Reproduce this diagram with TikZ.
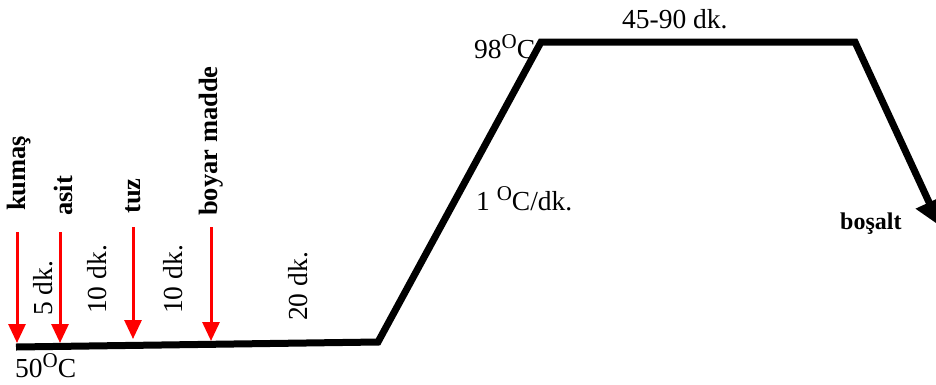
\documentclass[tikz,border=0pt]{standalone}
\usepackage{fontspec}
\setmainfont{Liberation Serif}
\usetikzlibrary{arrows.meta}
\newcommand{\degO}{\raisebox{0.36em}{\fontsize{21}{22}\selectfont O}}
\begin{document}
\begin{tikzpicture}[x=1pt,y=-1pt,
  lab/.style={inner sep=0pt,font=\fontsize{26.5}{30}\selectfont\bfseries},
  txt/.style={inner sep=0pt,font=\fontsize{27.5}{30}\selectfont},
  small/.style={inner sep=0pt,font=\fontsize{24}{26}\selectfont\bfseries},
  redarrow/.style={draw=red,line width=3pt,-{Triangle[width=17pt,length=19pt]}},
  curve/.style={draw=black,line width=7pt,line join=miter}]
\useasboundingbox (0,0) rectangle (936,384);
% rotated labels
\node[lab,rotate=90,anchor=west] (kumas) at (19,211) {kumaş};
\node[lab,rotate=90,anchor=west] (asit) at (63,216) {asit};
\node[lab,rotate=90,anchor=west] (tuz) at (133,214) {tuz};
\node[lab,rotate=90,anchor=west] (boyar) at (211,216) {boyar madde};
\node[txt,rotate=90,anchor=west] (d5) at (43,316) {5 dk.};
\node[txt,rotate=90,anchor=west] (d10a) at (97,314) {10 dk.};
\node[txt,rotate=90,anchor=west] (d10b) at (173,314) {10 dk.};
\node[txt,rotate=90,anchor=west] (d20) at (298,321) {20 dk.};
% red arrows
\coordinate (a1s) at (17,232); \coordinate (a1e) at (17,343);
\coordinate (a2s) at (60,232); \coordinate (a2e) at (60,343);
\coordinate (a3s) at (133,227); \coordinate (a3e) at (133,339);
\coordinate (a4s) at (211,227); \coordinate (a4e) at (211,341);
\draw[redarrow] (a1s) -- (a1e);
\draw[redarrow] (a2s) -- (a2e);
\draw[redarrow] (a3s) -- (a3e);
\draw[redarrow] (a4s) -- (a4e);
% process curve
\coordinate (p0) at (16,347);
\coordinate (p1) at (378,342);
\coordinate (p2) at (541,42);
\coordinate (p3) at (855,42);
\coordinate (p4) at (940,226);
\draw[curve,-{Triangle[width=28pt,length=26pt]}] (p0) -- (p1) -- (p2) -- (p3) -- (p4);
% text labels
\node[txt,anchor=base west] (t50) at (15,377) {50\degO C};
\node[txt,anchor=base west] (t98) at (474,58) {98\degO C};
\node[txt,anchor=base west] (rate) at (476,210) {1 \degO C/dk.};
\node[txt,anchor=base west] (t4590) at (622,28) {45-90 dk.};
\node[small,anchor=base west] (bosalt) at (840,229) {boşalt};
\end{tikzpicture}
\end{document}
